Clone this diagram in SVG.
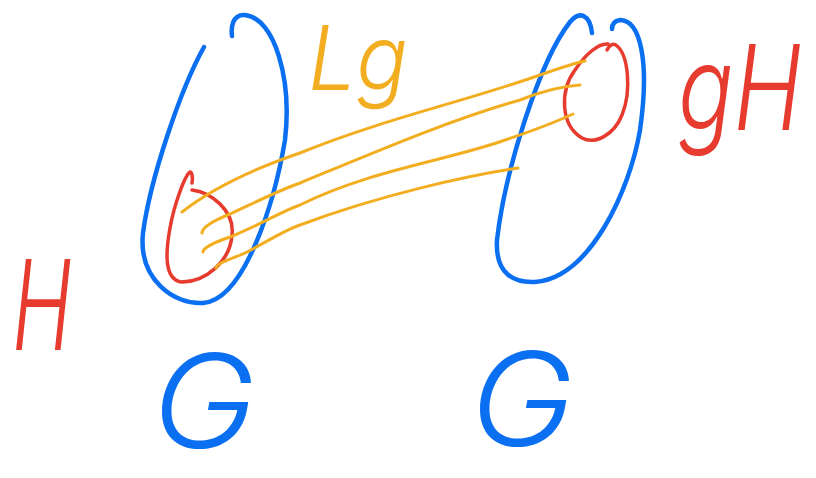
<svg xmlns="http://www.w3.org/2000/svg" width="816" height="478" viewBox="0 0 816 478">
<style>
.blue{fill:none;stroke:#0b6ff2;stroke-width:4.5;stroke-linecap:round;stroke-linejoin:round}
.red{fill:none;stroke:#e63b2e;stroke-width:3.5;stroke-linecap:round;stroke-linejoin:round}
.orange{fill:none;stroke:#f2ae20;stroke-width:3;stroke-linecap:round;stroke-linejoin:round}
.lbl{font-family:Inter,Lato,"DejaVu Sans",sans-serif;font-style:italic;font-weight:300}
</style>
<rect width="816" height="478" fill="#ffffff"/>
<g id="G-left">
<path class="blue" d="M204,47 C180,90 150,180 143,233 C138,280 175,305 203,303 C245,300 275,200 285,140 C292,80 275,18 245,15 C232,14 231,28 232,36"/>
<text class="lbl" x="152" y="448" font-size="130" fill="#0b6ff2" textLength="104" lengthAdjust="spacingAndGlyphs">G</text>
</g>
<g id="H-left">
<path class="red" d="M192,190 C210,192 235,210 232,235 C230,262 205,282 182,282 C163,280 166,250 170,228 C174,205 185,175 190,172 C192,172 193,178 192,183"/>
<text class="lbl" x="12" y="350" font-size="125" fill="#e63b2e" textLength="60" lengthAdjust="spacingAndGlyphs">H</text>
</g>
<g id="G-right">
<path class="blue" d="M592,33 C590,15 580,10 570,22 C540,60 505,170 497,240 C495,275 515,283 535,282 C590,278 630,190 640,130 C650,60 640,20 620,20 C613,21 612,26 612,29"/>
<text class="lbl" x="470" y="446" font-size="130" fill="#0b6ff2" textLength="104" lengthAdjust="spacingAndGlyphs">G</text>
</g>
<g id="gH">
<path class="red" d="M607,50 C610,44 614,43 617,46 C628,55 632,90 622,115 C614,135 595,145 582,138 C560,125 560,90 575,70 C585,55 598,43 608,44"/>
<text class="lbl" transform="translate(678,130) scale(1,1.18)" x="0" y="0" font-size="100" fill="#e63b2e" textLength="124" lengthAdjust="spacingAndGlyphs">gH</text>
</g>
<g id="connectors">
<path class="orange" d="M182,212 C210,190 250,170 300,153 C380,120 470,100 540,75 C560,68 575,63 585,61"/>
<path class="orange" d="M202,233 C202,228 210,222 230,214 C260,200 280,190 300,183 C380,150 450,120 520,100 C545,90 565,86 580,85"/>
<path class="orange" d="M203,252 C203,248 215,242 230,237 C260,225 280,212 300,205 C370,170 450,160 505,140 C535,130 560,120 573,114"/>
<path class="orange" d="M216,268 C216,263 235,258 247,252 C270,240 285,230 300,225 C380,195 470,175 518,168"/>
<text class="lbl" x="308" y="90" font-size="90" font-weight="600" fill="#f2ae20" textLength="100" lengthAdjust="spacingAndGlyphs">Lg</text>
</g>
</svg>
